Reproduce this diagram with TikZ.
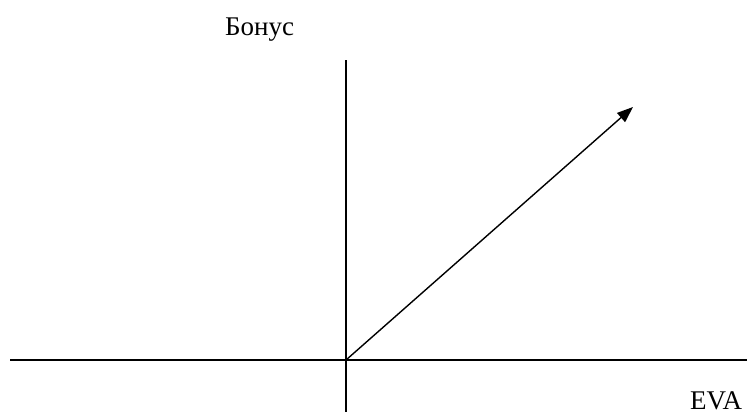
\documentclass[tikz,border=0pt]{standalone}
\usepackage{fontspec}
\setmainfont{Liberation Serif}
\usetikzlibrary{arrows.meta}
\begin{document}
\begin{tikzpicture}[x=1pt,y=-1pt,
  axis/.style={line width=1.5pt,black},
  vec/.style={line width=1.4pt,black,-{Triangle[length=16pt,width=12pt]}},
  lbl/.style={font=\fontsize{27}{30}\selectfont,inner sep=0pt,text depth=0pt}]
\useasboundingbox (0,0) rectangle (751,416);
\coordinate (hl) at (10,360);
\coordinate (hr) at (747,360);
\coordinate (vt) at (346,60);
\coordinate (vb) at (346,412);
\coordinate (o) at (346,360);
\coordinate (tip) at (633,107);
\draw[axis] (hl) -- (hr);
\draw[axis] (vt) -- (vb);
\draw[vec] (o) -- (tip);
\node[lbl,anchor=base west] (bonus) at (225,35) {Бонус};
\node[lbl,anchor=base west] (eva) at (690,409) {EVA};
\end{tikzpicture}
\end{document}
